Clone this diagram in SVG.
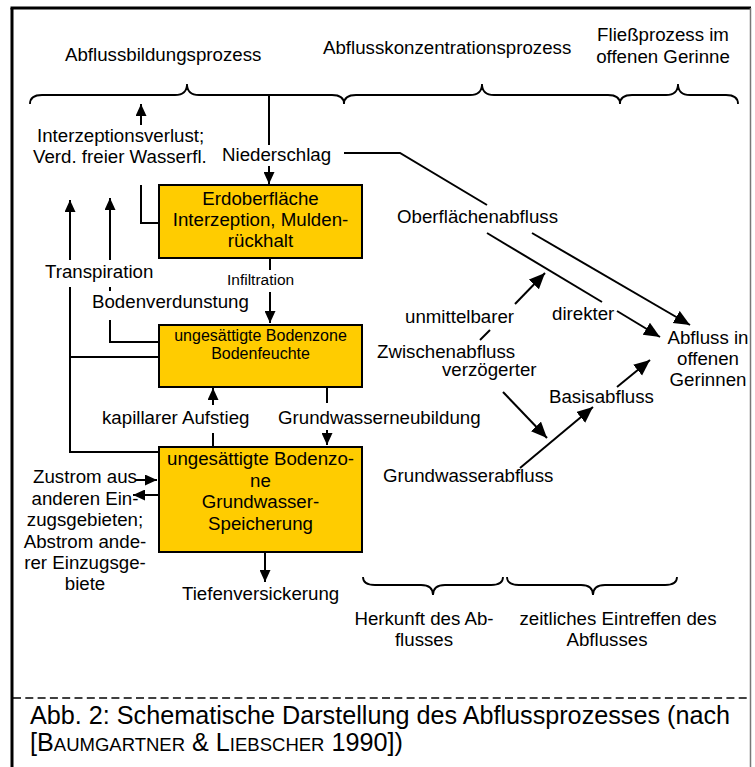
<svg xmlns="http://www.w3.org/2000/svg" width="755" height="767" viewBox="0 0 755 767">
  <style>
    text { font-family: "Liberation Sans", Arial, sans-serif; font-size: 18.7px; fill: #000; }
    .mid { text-anchor: middle; }
    .small { font-size: 16px; }
    .tiny { font-size: 15.5px; }
    .cap { font-size: 25.2px; }
    .sc { font-size: 18.5px; }
    .box { fill: #FFCC00; stroke: #000; stroke-width: 2; }
    .ln { fill: none; stroke: #000; stroke-width: 2; }
    .arr { fill: none; stroke: #000; stroke-width: 2; marker-end: url(#ah); }
    .arrL { fill: none; stroke: #000; stroke-width: 2; marker-end: url(#ahL); }
    .brace { fill: none; stroke: #000; stroke-width: 1.8; }
  </style>
  <defs>
    <marker id="ah" markerUnits="userSpaceOnUse" markerWidth="13" markerHeight="11" refX="12" refY="5.5" orient="auto">
      <path d="M0,0 L12,5.5 L0,11 Z" fill="#000"/>
    </marker>
    <marker id="ahL" markerUnits="userSpaceOnUse" markerWidth="17" markerHeight="15" refX="16" refY="7" orient="auto">
      <path d="M0,0 L16,7 L0,14 Z" fill="#000"/>
    </marker>
  </defs>

  <rect width="755" height="767" fill="#fff"/>

  <!-- frame -->
  <g id="frame">
    <line x1="12" y1="8" x2="12" y2="767" stroke="#000" stroke-width="3"/>
    <line x1="10.5" y1="8" x2="751" y2="8" stroke="#000" stroke-width="3"/>
    <line x1="750.5" y1="8" x2="750.5" y2="767" stroke="#777" stroke-width="1.5"/>
    <line x1="13" y1="698" x2="750" y2="698" stroke="#000" stroke-width="1.5" stroke-dasharray="8 4.3"/>
  </g>

  <!-- phase headings -->
  <g id="headings">
    <text x="65" y="61">Abflussbildungsprozess</text>
    <text x="323" y="54">Abflusskonzentrationsprozess</text>
    <text class="mid" x="663" y="41">Fließprozess im</text>
    <text class="mid" x="663" y="63">offenen Gerinne</text>
  </g>

  <!-- braces -->
  <g id="braces">
    <path class="brace" d="M30,104 Q30,95 42,95 L175,95 Q187,95 187,84 Q187,95 199,95 L332,95 Q344,95 344,104 Q344,95 356,95 L470,95 Q482,95 482,84 Q482,95 494,95 L608,95 Q620,95 620,104 Q620,95 632,95 L666,95 Q678,95 678,84 Q678,95 690,95 L726,95 Q738,95 738,104"/>
    <path class="brace" d="M363,577 Q363,585 375,585 L421,585 Q433,585 433,595 Q433,585 445,585 L491,585 Q503,585 503,577"/>
    <path class="brace" d="M507,577 Q507,585 519,585 L581,585 Q593,585 593,595 Q593,585 605,585 L665,585 Q677,585 677,577"/>
  </g>

  <!-- connectors -->
  <g id="connectors">
    <!-- Niederschlag -->
    <path class="ln" d="M269,95 L269,145"/>
    <path class="arr" d="M269,166 L269,184"/>
    <!-- Interzeptionsverlust -->
    <path class="arr" d="M141,125 L141,104"/>
    <path class="ln" d="M141,185 L141,223 L159,223"/>
    <!-- Oberflächenabfluss -->
    <path class="ln" d="M344,153 L400,153 L487,205"/>
    <path class="ln" d="M487,233 L602,302"/>
    <path class="arrL" d="M617,311 L660,337"/>
    <path class="arrL" d="M532,233 L690,325"/>
    <!-- Transpiration -->
    <path class="arr" d="M70,260 L70,200"/>
    <path class="ln" d="M70,287 L70,452 L159,452"/>
    <path class="ln" d="M70,357 L159,357"/>
    <!-- Bodenverdunstung -->
    <path class="arr" d="M110,260 L110,198"/>
    <path class="ln" d="M110,287 L110,291"/>
    <path class="ln" d="M110,320 L110,342 L159,342"/>
    <!-- Infiltration -->
    <path class="ln" d="M270,258 L270,270"/>
    <path class="arr" d="M270,292 L270,323"/>
    <!-- kapillarer Aufstieg -->
    <path class="arr" d="M213,405 L213,388"/>
    <path class="ln" d="M213,433 L213,447"/>
    <!-- Grundwasserneubildung -->
    <path class="ln" d="M327,387 L327,403"/>
    <path class="arr" d="M327,430 L327,445"/>
    <!-- Zustrom / Abstrom -->
    <path class="arr" d="M135,480 L157,480"/>
    <path class="arr" d="M158,495 L133,495"/>
    <!-- Tiefenversickerung -->
    <path class="arr" d="M265,552 L265,582"/>
    <!-- Zwischenabfluss -->
    <path class="ln" d="M480,340 L490,330"/>
    <path class="arrL" d="M515,304 L545,273"/>
    <path class="arrL" d="M503,392 L547,438"/>
    <!-- Basisabfluss -->
    <path class="arrL" d="M520,468 L593,407"/>
    <path class="arrL" d="M617,387 L650,360"/>
  </g>

  <!-- process boxes -->
  <g id="erdoberflaeche">
    <rect class="box" x="159" y="185" width="203" height="73"/>
    <text class="mid" x="260.5" y="205">Erdoberfläche</text>
    <text class="mid" x="260.5" y="226">Interzeption, Mulden-</text>
    <text class="mid" x="260.5" y="247">rückhalt</text>
  </g>
  <g id="bodenzone">
    <rect class="box" x="159" y="325" width="203" height="62"/>
    <text class="mid small" x="260.5" y="341">ungesättigte Bodenzone</text>
    <text class="mid small" x="260.5" y="359">Bodenfeuchte</text>
  </g>
  <g id="grundwasser">
    <rect class="box" x="159" y="447" width="203" height="105"/>
    <text class="mid" x="260.5" y="465">ungesättigte Bodenzo-</text>
    <text class="mid" x="260.5" y="487">ne</text>
    <text class="mid" x="260.5" y="508">Grundwasser-</text>
    <text class="mid" x="260.5" y="530">Speicherung</text>
  </g>

  <!-- flow labels -->
  <g id="labels">
    <text x="37" y="142">Interzeptionsverlust;</text>
    <text x="33" y="163">Verd. freier Wasserfl.</text>
    <text x="222" y="161">Niederschlag</text>
    <text x="397" y="223">Oberflächenabfluss</text>
    <text x="45" y="278">Transpiration</text>
    <text class="tiny" x="227" y="285">Infiltration</text>
    <text x="92" y="308">Bodenverdunstung</text>
    <text x="405" y="323">unmittelbarer</text>
    <text x="552" y="320">direkter</text>
    <text x="377" y="358">Zwischenabfluss</text>
    <text x="442" y="376">verzögerter</text>
    <text x="549" y="403">Basisabfluss</text>
    <text x="102" y="424">kapillarer Aufstieg</text>
    <text x="278" y="424">Grundwasserneubildung</text>
    <text x="383" y="482">Grundwasserabfluss</text>
    <text x="182" y="600">Tiefenversickerung</text>
  </g>

  <g id="abfluss-gerinne">
    <text class="mid" x="708" y="344">Abfluss in</text>
    <text class="mid" x="708" y="365">offenen</text>
    <text class="mid" x="708" y="386">Gerinnen</text>
  </g>

  <g id="austausch">
    <text class="mid" x="85" y="483">Zustrom aus</text>
    <text class="mid" x="85" y="504.5">anderen Ein-</text>
    <text class="mid" x="85" y="526">zugsgebieten;</text>
    <text class="mid" x="85" y="547.5">Abstrom ande-</text>
    <text class="mid" x="85" y="569">rer Einzugsge-</text>
    <text class="mid" x="85" y="590">biete</text>
  </g>

  <g id="legend-bottom">
    <text class="mid" x="424" y="625">Herkunft des Ab-</text>
    <text class="mid" x="424" y="646">flusses</text>
    <text class="mid" x="618" y="625">zeitliches Eintreffen des</text>
    <text class="mid" x="607" y="646">Abflusses</text>
  </g>

  <!-- caption -->
  <g id="caption">
    <text class="cap" x="30" y="724">Abb. 2: Schematische Darstellung des Abflussprozesses (nach</text>
    <text class="cap" x="30" y="751">[B<tspan class="sc">AUMGARTNER</tspan> &amp; L<tspan class="sc">IEBSCHER</tspan> 1990])</text>
  </g>
</svg>
